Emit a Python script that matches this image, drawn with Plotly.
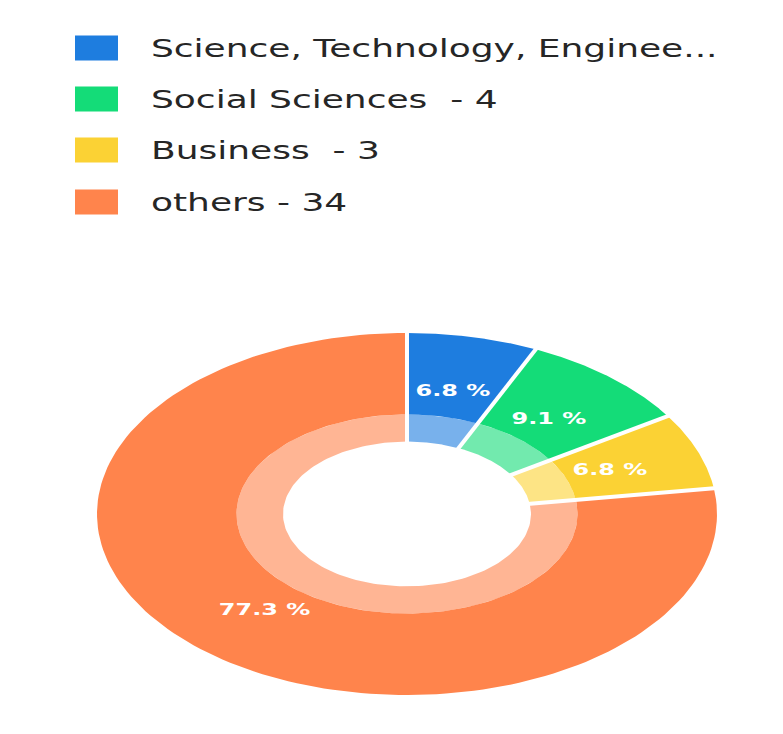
import numpy as np
import plotly.graph_objects as go

# ---- data -------------------------------------------------------------
categories = ["Science, Technology, Engineering", "Social Sciences", "Business", "others"]
counts = [3, 4, 3, 34]
legend_labels = [
    "Science, Technology, Enginee...",
    "Social Sciences\u00a0 - 4",
    "Business\u00a0 - 3",
    "others - 34",
]
colors = ["#1E7DDF", "#14DC78", "#FBD234", "#FF844C"]

# ---- geometry (pixels) ------------------------------------------------
W, H = 783, 734
CX, CY = 407, 514          # donut centre
RX, RY = 310, 181          # outer radii (horizontal / vertical)
R_OUT, R_MID, R_IN = 1.0, 0.55, 0.40
R_LABEL = 0.70
STRETCH = 1.5              # horizontal text stretch


def hex_rgba(h, a):
    h = h.lstrip("#")
    r, g, b = int(h[0:2], 16), int(h[2:4], 16), int(h[4:6], 16)
    return f"rgba({r},{g},{b},{a})"


def ring(f0, f1, r0, r1, n=160):
    t = np.linspace(f0, f1, n) * 2 * np.pi
    xo, yo = r1 * np.sin(t), r1 * np.cos(t)
    xi, yi = r0 * np.sin(t[::-1]), r0 * np.cos(t[::-1])
    x = np.concatenate([xo, xi, xo[:1]])
    y = np.concatenate([yo, yi, yo[:1]])
    return x, y


total = sum(counts)
fracs = np.array(counts, dtype=float) / total
ends = np.cumsum(fracs)
starts = ends - fracs

fig = go.Figure()

for name, c0, c1, col in zip(categories, starts, ends, colors):
    # outer band in full colour
    x, y = ring(c0, c1, R_MID, R_OUT)
    fig.add_trace(go.Scatter(x=x, y=y, fill="toself", fillcolor=col, mode="lines",
                             line=dict(width=0, color=col), name=name,
                             hoverinfo="skip", showlegend=False))
    # inner lighter band
    x, y = ring(c0, c1, R_IN, R_MID)
    fig.add_trace(go.Scatter(x=x, y=y, fill="toself", fillcolor=hex_rgba(col, 0.6),
                             mode="lines", line=dict(width=0, color=col), name=name,
                             hoverinfo="skip", showlegend=False))

# white separators on every slice boundary
for b in starts:
    t = b * 2 * np.pi
    fig.add_trace(go.Scatter(x=[R_IN * 0.98 * np.sin(t), 1.02 * np.sin(t)],
                             y=[R_IN * 0.98 * np.cos(t), 1.02 * np.cos(t)],
                             mode="lines", line=dict(color="white", width=4),
                             hoverinfo="skip", showlegend=False))

# percentage labels
for cnt, c0, c1 in zip(counts, starts, ends):
    mid = (c0 + c1) / 2 * 2 * np.pi
    fig.add_annotation(x=R_LABEL * np.sin(mid), y=R_LABEL * np.cos(mid), xref="x", yref="y",
                       text=f"{cnt / total * 100:.1f} %", showarrow=False,
                       font=dict(family="DejaVu Sans", size=16, color="white", weight="bold"))

# legend drawn as swatches + text
SW_X0, SW_X1, SW_H = 75, 118, 25
TEXT_X = 149
ROW_Y = [48, 99, 150, 202]
for lab, col, yc in zip(legend_labels, colors, ROW_Y):
    fig.add_shape(type="rect", xref="paper", yref="paper",
                  x0=SW_X0 / W, x1=SW_X1 / W,
                  y0=1 - (yc + SW_H / 2) / H, y1=1 - (yc - SW_H / 2) / H,
                  fillcolor=col, line=dict(width=0))
    fig.add_annotation(x=TEXT_X / W, y=1 - (yc + 1) / H, xref="paper", yref="paper",
                       xanchor="left", yanchor="middle", align="left", text=lab,
                       showarrow=False,
                       font=dict(family="DejaVu Sans", size=24, color="#262626"))

fig.update_layout(
    width=W, height=H, autosize=False,
    margin=dict(l=0, r=0, t=0, b=0),
    paper_bgcolor="white", plot_bgcolor="white",
    xaxis=dict(range=[-CX / RX, (W - CX) / RX], visible=False, fixedrange=True),
    yaxis=dict(range=[-(H - CY) / RY, CY / RY], visible=False, fixedrange=True),
    showlegend=False,
)

post = """
var gd = document.getElementById('{plot_id}');
function widen(){
  gd.querySelectorAll('text.annotation-text').forEach(function(t){
    var a = t.getAttribute('text-anchor');
    t.style.transformBox = 'fill-box';
    t.style.transformOrigin = (a === 'start') ? 'left center' : 'center';
    t.style.transform = 'scaleX(%s)';
  });
}
widen();
gd.on('plotly_afterplot', widen);
""" % STRETCH

fig.write_html("out.html", post_script=post, config={"displayModeBar": False})
